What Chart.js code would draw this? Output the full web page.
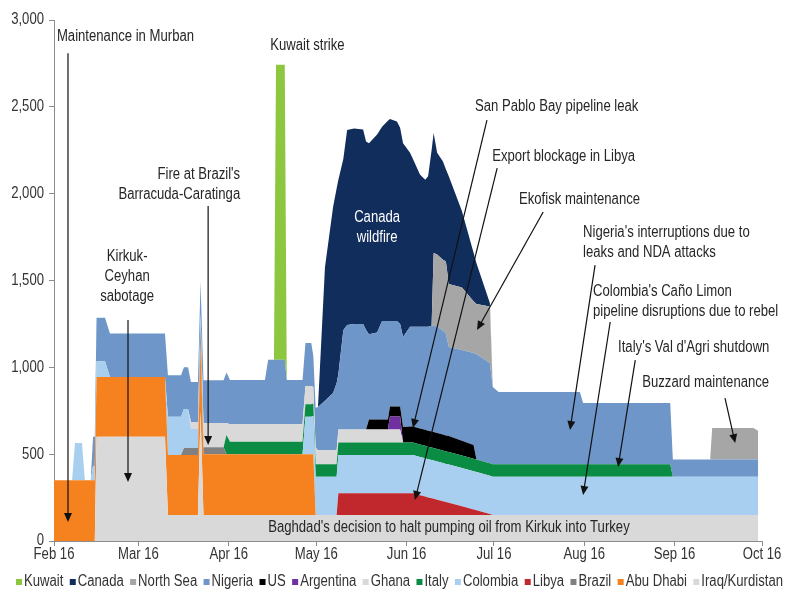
<!DOCTYPE html>
<html><head><meta charset="utf-8">
<script src="https://cdn.jsdelivr.net/npm/chart.js@4.4.1/dist/chart.umd.min.js"></script>
<style>html,body{margin:0;padding:0;background:#fff}</style>
</head><body>
<canvas id="c" width="800" height="600"></canvas>
<script>
// x = days since 1 Feb 2016
const days = [0,6.2,7.2,9.6,10.6,12.6,13.4,14.0,14.6,17.5,
 19.2,38.1,39.1,43.6,44.6,46.0,47.0,49.4,50.3,51.3,
 58.2,59.2,60.4,72.4,73.5,75.5,76.2,79.2,79.9,85.3,
 86.3,88.3,89.0,89.8,90.6,93.0,95.8,97.0,97.6,99.3,
 100.6,103.0,106.1,107.1,108.1,110.9,112.6,114.6,115.3,117.7,
 118.8,119.8,122.2,123.2,125.6,127.4,128.4,129.6,130.3,131.5,
 133.5,134.5,135.5,140.0,144.0,145.0,149.6,150.6,152.6,180.5,
 181.6,211.5,212.4,225.2,225.9,240.0,241.7];

const monthDays = [0,29,60,90,121,151,182,213,243];
const monthLabels = ['Feb 16','Mar 16','Apr 16','May 16','Jun 16','Jul 16','Aug 16','Sep 16','Oct 16'];
const yTicks = [0,500,1000,1500,2000,2500,3000];

const iraq = [0,0,0,0,0,0,0,0,600,600,
 600,600,150,150,150,150,150,150,745,150,
 150,150,150,150,150,150,150,150,150,150,
 150,150,150,150,150,150,150,150,150,150,
 150,150,150,150,150,150,150,150,150,150,
 150,150,150,150,150,150,150,150,150,150,
 150,150,150,150,150,150,150,150,150,150,
 150,150,150,150,150,150,150];
const abuDhabi = [350,350,350,350,350,350,350,350,345,345,
 345,345,345,345,345,345,345,345,400,350,
 350,350,350,350,350,350,350,350,350,350,
 350,350,350,0,0,0,0,0,0,0,
 0,0,0,0,0,0,0,0,0,0,
 0,0,0,0,0,0,0,0,0,0,
 0,0,0,0,0,0,0,0,0,0,
 0,0,0,0,0,0,0];
const brazil = [0,0,0,0,0,0,0,0,0,0,
 0,0,0,0,40,40,40,40,100,40,
 40,0,0,0,0,0,0,0,0,0,
 0,0,0,0,0,0,0,0,0,0,
 0,0,0,0,0,0,0,0,0,0,
 0,0,0,0,0,0,0,0,0,0,
 0,0,0,0,0,0,0,0,0,0,
 0,0,0,0,0,0,0];
const libya = [0,0,0,0,0,0,0,0,0,0,
 0,0,0,0,0,0,0,0,0,0,
 0,0,0,0,0,0,0,0,0,0,
 0,0,0,0,0,0,0,0,125,125,
 125,125,125,125,125,125,125,125,125,125,
 125,125,125,125,114,106,101,96,93,88,
 79,74,70,50,31,27,6,0,0,0,
 0,0,0,0,0,0,0];
const colombia = [0,0,215,215,0,0,80,80,90,90,
 0,0,220,220,225,225,110,110,70,0,
 0,0,0,0,0,0,0,0,0,0,
 215,215,220,220,220,220,220,220,220,220,
 220,220,220,220,220,220,220,220,220,220,
 220,220,220,220,220,220,220,220,220,220,
 220,220,220,220,220,220,220,220,220,220,
 220,220,220,220,220,220,220];
const italy = [0,0,0,0,0,0,0,0,0,0,
 0,0,0,0,0,0,0,0,0,0,
 0,110,72,72,72,72,72,72,72,72,
 72,72,72,72,72,72,72,72,72,72,
 72,72,72,72,72,72,72,72,72,72,
 72,72,72,72,72,72,72,72,72,72,
 72,72,72,72,72,72,72,72,72,72,
 72,72,0,0,0,0,0];
const ghana = [0,0,0,0,0,0,0,0,0,0,
 0,0,0,0,0,0,40,40,0,140,
 140,70,100,100,100,100,100,100,100,100,
 105,105,95,95,80,80,80,80,75,75,
 75,75,75,75,75,75,75,75,75,75,
 75,0,0,0,0,0,0,0,0,0,
 0,0,0,0,0,0,0,0,0,0,
 0,0,0,0,0,0,0];
const argentina = [0,0,0,0,0,0,0,0,0,0,
 0,0,0,0,0,0,0,0,0,0,
 0,0,0,0,0,0,0,0,0,0,
 0,0,0,0,0,0,0,0,0,0,
 0,0,0,0,0,0,0,0,75,75,
 75,0,0,0,0,0,0,0,0,0,
 0,0,0,0,0,0,0,0,0,0,
 0,0,0,0,0,0,0];
const us = [0,0,0,0,0,0,0,0,0,0,
 0,0,0,0,0,0,0,0,0,0,
 0,0,0,0,0,0,0,0,0,0,
 0,0,0,0,0,0,0,0,0,0,
 0,0,0,0,58,58,58,58,57,57,
 57,90,92,92,92,92,92,92,92,92,
 92,92,92,85,80,0,0,0,0,0,
 0,0,0,0,0,0,0];
const nigeria = [0,0,0,0,0,0,170,170,250,250,
 250,250,240,240,240,240,230,230,180,245,
 245,290,255,255,371,371,371,371,255,255,
 248,248,180,230,250,285,330,387,318,572,
 602,608,608,573,490,500,567,567,493,493,
 476,518,574,574,585,593,598,610,613,613,
 597,587,513,523,530,606,577,445,416,416,
 353,353,100,100,100,100,100];
const northSea = [0,0,0,0,0,0,0,0,0,0,
 0,0,0,0,0,0,0,0,0,0,
 0,0,0,0,0,0,0,0,0,0,
 0,0,0,0,0,0,0,0,0,0,
 0,0,0,0,0,0,0,0,0,0,
 0,0,0,0,0,0,0,0,419,415,
 409,415,363,360,297,290,325,0,0,0,
 0,0,0,0,180,180,165];
const canada = [0,0,0,0,0,0,0,0,0,0,
 0,0,0,0,0,0,0,0,0,0,
 0,0,0,0,0,0,0,0,0,0,
 0,0,0,0,0,770,1073,1121,1120,986,
 1123,1125,1120,1085,1100,1140,1118,1153,1163,1148,
 1130,1115,1002,967,877,847,867,1010,691,585,
 566,530,620,440,280,235,20,0,0,0,
 0,0,0,0,0,0,0];
const kuwait = [0,0,0,0,0,0,0,0,0,0,
 0,0,0,0,0,0,0,0,0,0,
 0,0,0,0,0,0,1700,1700,0,0,
 0,0,0,0,0,0,0,0,0,0,
 0,0,0,0,0,0,0,0,0,0,
 0,0,0,0,0,0,0,0,0,0,
 0,0,0,0,0,0,0,0,0,0,
 0,0,0,0,0,0,0];

// stacking order: bottom first
const seriesNames = ['Iraq/Kurdistan','Abu Dhabi','Brazil','Libya','Colombia','Italy','Ghana','Argentina','US','Nigeria','North Sea','Canada','Kuwait'];
const seriesValues = [iraq,abuDhabi,brazil,libya,colombia,italy,ghana,argentina,us,nigeria,northSea,canada,kuwait];
const seriesColors = ['#d9d9d9','#f5821f','#808080','#c0282d','#a8cfef','#0a8c45','#d9d9d9','#7030a0','#000000','#6e96c8','#a6a6a6','#102d5c','#8dc63f'];

const FONT = "'Liberation Sans',Arial,sans-serif";
const SX = 0.82; // horizontal condensing of all text (reference uses a narrow face)
Chart.defaults.font.family = FONT;
Chart.defaults.font.size = 16;
Chart.defaults.color = '#333';

const notes = [
 {lines:['Maintenance in Murban'], at:[1.0,2902], align:'left', arrow:[[4.8,2809],[4.8,109]]},
 {lines:['Kuwait strike'], at:[74.2,2855], align:'left'},
 {lines:["Fire at Brazil's","Barracuda-Caratinga"], at:[63.9,2107], align:'right', arrow:[[52.9,1929],[52.9,553]]},
 {lines:['Kirkuk-','Ceyhan','sabotage'], at:[25.1,1635], align:'center', arrow:[[25.4,1272],[25.4,340]]},
 {lines:['Canada','wildfire'], at:[110.9,1865], align:'center', color:'#ffffff'},
 {lines:['San Pablo Bay pipeline leak'], at:[144.5,2499], align:'left', arrow:[[148.6,2424],[123.2,651]]},
 {lines:['Export blockage in Libya'], at:[150.4,2211], align:'left', arrow:[[152.1,2147],[123.9,236]]},
 {lines:['Ekofisk maintenance'], at:[159.6,1963], align:'left', arrow:[[167.9,1894],[145.2,1215]]},
 {lines:["Nigeria's interruptions due to",'leaks and NDA attacks'], at:[181.6,1773], align:'left', arrow:[[185.7,1589],[177.1,639]]},
 {lines:["Colombia's Caño Limon",'pipeline disruptions due to rebel'], at:[185,1434], align:'left', arrow:[[190.9,1261],[181.6,265]]},
 {lines:["Italy's Val d'Agri shutdown"], at:[193.6,1111], align:'left', arrow:[[199.5,1042],[193.6,426]]},
 {lines:['Buzzard maintenance'], at:[201.9,910], align:'left', arrow:[[230.3,823],[233.8,564]]},
 {lines:["Baghdad's decision to halt pumping oil from Kirkuk into Turkey"], at:[73.5,75], align:'left'}
];

function condText(ctx, text, x, y, align){
  const w = ctx.measureText(text).width*SX;
  const x0 = align==='left' ? x : (align==='right' ? x-w : x-w/2);
  ctx.save(); ctx.translate(x0,y); ctx.scale(SX,1);
  ctx.textAlign='left'; ctx.fillText(text,0,0); ctx.restore();
  return w;
}

function drawArrow(ctx,x1,y1,x2,y2){
  const a=Math.atan2(y2-y1,x2-x1), L=9, W=4;
  ctx.beginPath(); ctx.moveTo(x1,y1); ctx.lineTo(x2-L*0.6*Math.cos(a),y2-L*0.6*Math.sin(a)); ctx.stroke();
  ctx.beginPath(); ctx.moveTo(x2,y2);
  ctx.lineTo(x2-L*Math.cos(a)+W*Math.sin(a), y2-L*Math.sin(a)-W*Math.cos(a));
  ctx.lineTo(x2-L*Math.cos(a)-W*Math.sin(a), y2-L*Math.sin(a)+W*Math.cos(a));
  ctx.closePath(); ctx.fill();
}

const textPlugin = {
  id:'texts',
  afterDatasetsDraw(chart){
    const ctx=chart.ctx, xs=chart.scales.x, ys=chart.scales.y;
    ctx.save();
    ctx.font = '16px ' + FONT;
    ctx.textBaseline='middle';
    notes.forEach(n=>{
      const x=xs.getPixelForValue(n.at[0]), y=ys.getPixelForValue(n.at[1]);
      ctx.fillStyle = n.color || '#262626';
      n.lines.forEach((t,i)=>condText(ctx,t,x,y+i*20,n.align));
      if(n.arrow){
        ctx.strokeStyle='#111'; ctx.fillStyle='#111'; ctx.lineWidth=1.2;
        drawArrow(ctx, xs.getPixelForValue(n.arrow[0][0]), ys.getPixelForValue(n.arrow[0][1]),
                       xs.getPixelForValue(n.arrow[1][0]), ys.getPixelForValue(n.arrow[1][1]));
      }
    });
    // axis tick labels
    ctx.fillStyle='#333';
    monthDays.forEach((v,i)=>condText(ctx, monthLabels[i], xs.getPixelForValue(v), xs.bottom-10, 'center'));
    yTicks.forEach(v=>condText(ctx, v.toLocaleString('en-US'), ys.right-10, ys.getPixelForValue(v), 'right'));
    ctx.restore();
  },
  afterDraw(chart){
    // legend row
    const ctx=chart.ctx;
    ctx.save();
    ctx.font='16px '+FONT;
    ctx.textBaseline='middle';
    const items = chart.data.datasets.slice().reverse();
    const box=6, gapBT=2, left=16, right=783, y=582;
    const widths = items.map(d=>box+gapBT+ctx.measureText(d.label).width*SX);
    const total = widths.reduce((a,b)=>a+b,0);
    const gap = (right-left-total)/(items.length-1);
    let x=left;
    items.forEach((d,i)=>{
      ctx.fillStyle=d.backgroundColor;
      ctx.fillRect(x, y-3, box, box);
      ctx.fillStyle='#333';
      condText(ctx, d.label, x+box+gapBT, y, 'left');
      x += widths[i]+gap;
    });
    ctx.restore();
  }
};

new Chart(document.getElementById('c'), {
  type:'line',
  data:{
    datasets: seriesNames.map((name,i)=>({
      label:name,
      data: days.map((d,j)=>({x:d, y:seriesValues[i][j]})),
      backgroundColor: seriesColors[i],
      borderColor:'rgba(0,0,0,0)',
      borderWidth:0,
      pointRadius:0,
      tension:0,
      fill: i===0 ? 'origin' : '-1'
    }))
  },
  options:{
    responsive:false, animation:false,
    layout:{padding:{left:0,right:38,top:20,bottom:35}},
    plugins:{legend:{display:false}, tooltip:{enabled:false}},
    scales:{
      x:{type:'linear', min:0, max:243,
        afterBuildTicks:s=>{s.ticks = monthDays.map(v=>({value:v}));},
        ticks:{display:false},
        grid:{drawOnChartArea:false, drawTicks:true, tickLength:5, color:'#8c8c8c'},
        border:{color:'#8c8c8c'},
        afterFit:s=>{s.height=24;}
      },
      y:{stacked:true, min:0, max:3000,
        afterBuildTicks:s=>{s.ticks = yTicks.map(v=>({value:v}));},
        ticks:{display:false},
        grid:{drawOnChartArea:false, drawTicks:true, tickLength:5, color:'#8c8c8c'},
        border:{color:'#8c8c8c'},
        afterFit:s=>{s.width=54;}
      }
    }
  },
  plugins:[textPlugin]
});
</script>
</body></html>
